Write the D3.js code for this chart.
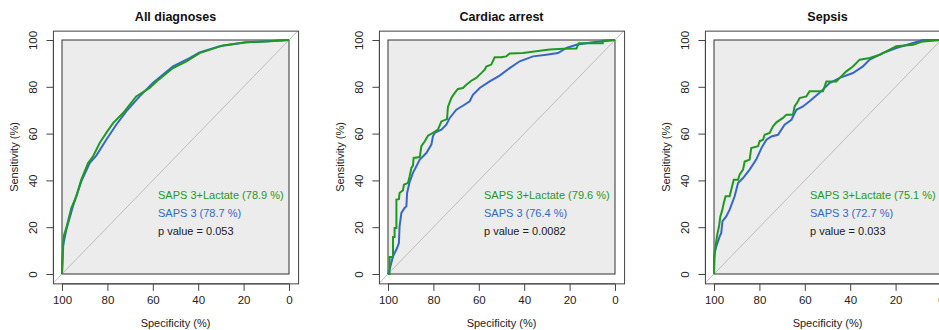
<!DOCTYPE html>
<html>
<head>
<meta charset="utf-8">
<script src="https://cdn.jsdelivr.net/npm/d3@7"></script>
<style>
  body { margin: 0; background: #fff; }
  svg { display: block; font-family: "Liberation Sans", Arial, sans-serif; }
</style>
</head>
<body>
<div id="chart"></div>
<script>
// Panel titles and legend text
const titles = ['All diagnoses', 'Cardiac arrest', 'Sepsis'];
const aucLactate = ['78.9', '79.6', '75.1'];
const aucSaps = ['78.7', '76.4', '72.7'];
const pValues = ['0.053', '0.0082', '0.033'];
const ticks = [100, 80, 60, 40, 20, 0];

// ROC points as [specificity %, sensitivity %]
const allSaps = [[100,0],[99.6,11.8],[98.1,18.9],[95.2,28.9],[91.5,39.6],[87.8,47.4],[84.9,50.6],[80.5,57.4],
  [76.1,63.8],[71.7,69.5],[65.8,75.9],[60,81.6],[51.1,88.7],[43.8,92.3],[39.4,94.7],[30.5,97.3],[18.8,99],[0,100]];
const allLact = [[100,0],[99.3,16],[98.1,19.7],[95.9,28.2],[93.7,33.2],[91.5,40.3],[88.5,47.4],[86.3,50.3],
  [83.4,56],[80.5,60.3],[77.5,64.5],[73.1,68.8],[67.3,75.9],[61.4,79.5],[58.4,82.3],[51.1,88],[45.2,90.9],
  [39.4,94.4],[29.1,97.7],[18.8,99],[10,99.4],[0,100]];

const cardSaps = [[100,0],[99.3,1.9],[97.8,7.5],[96,11.1],[95.2,13.2],[94.9,20.4],[94.1,26.1],[92.7,28.2],
  [91.9,28.9],[91.6,34.6],[90.5,39.2],[89,43.2],[86,48.9],[83.1,51.7],[80.9,55.3],[80.2,58.8],[79.4,60.3],
  [76.5,61.7],[74.3,63.8],[72.8,66.7],[69.9,70.2],[67,71.9],[64,73.8],[62.6,76.6],[59.6,79.5],[55.2,82.3],
  [50.8,84.8],[46.4,88],[42,90.9],[36.1,93],[30.2,93.7],[25.1,94.4],[21.4,96.6],[17,98],[9.7,99],[0,100]];
const cardLact = [[100,0],[99.3,0],[99.3,7.3],[97.8,7.3],[97.8,15.8],[97.1,15.8],[97.1,19.7],[96.3,19.7],
  [96.3,31.8],[95.2,32],[94.9,34.6],[93.4,35.8],[93,38.2],[91.2,38.9],[90.5,41.7],[89.7,45.3],[89,46.3],
  [88.7,49.6],[86,50],[85.3,54.6],[83.8,56.7],[82.4,59.1],[80.2,60.3],[78,61.7],[76.5,65.2],[74,66.2],
  [73.6,71.4],[72.1,75.2],[70.6,77.4],[69.2,79.1],[67,79.5],[65.5,80.9],[63.3,82.6],[61.1,83.8],[59.6,85.2],
  [57.4,87.3],[56.7,88.7],[54.5,89.5],[53,92.6],[50.1,92.6],[47.9,93],[46.4,94.2],[40.5,94.4],[34.7,95.2],
  [28.8,95.9],[22.9,96.3],[17,96.4],[16,98.6],[5.4,98.6],[5.4,99.7],[0,100]];

const sepSaps = [[100,0],[99.7,9],[99,11.8],[97.5,16.1],[96.8,17.5],[96.3,22.5],[94.6,24.6],[93.1,27.5],
  [90.9,33.2],[89.4,38.9],[87.2,41],[84.3,44.6],[81.4,48.9],[79.1,53.8],[76.9,57.4],[74.7,58.8],[71.8,59.5],
  [68.9,63.8],[65.9,65.9],[63.7,70.2],[60.8,71.6],[57.9,73.8],[53.5,77.4],[49.1,81.6],[44.6,83.8],[38.8,85.9],
  [34.4,88.7],[31.4,91.6],[25.6,94.4],[19.7,96.6],[12.3,98.7],[7.9,100],[0,100]];
const sepLact = [[100,0],[100,6.8],[99.3,11.8],[98.7,16.1],[97.8,20.4],[97.2,24.6],[96.3,27.5],[95.7,30.3],
  [94.9,33.2],[93.1,33.2],[92.4,36],[91.3,40.3],[89.4,40.3],[88.7,42.5],[87.2,44.6],[86.5,48.1],[84.3,48.9],
  [83.6,53.8],[80.6,54.6],[79.9,56.7],[78.4,57.4],[77.7,59.5],[75.5,60.3],[74,63.1],[72.5,64.8],[69.6,66.7],
  [68.1,68.1],[65.2,68.1],[64.5,71.6],[63,73.8],[62.3,75.2],[59.3,75.9],[57.9,78.1],[52,78.1],[50.5,82.3],
  [46.1,82.3],[44.6,83.8],[41.7,86.6],[38.8,88.7],[35.8,91.6],[31.4,92.3],[27,93.7],[22.6,95.9],[19.7,97.3],
  [12.3,98],[7.9,99.4],[0,100]];

const sapsSeries = [allSaps, cardSaps, sepSaps];
const lactSeries = [allLact, cardLact, sepLact];

const green = '#1f9a1f';
const blue = '#3468c8';

const width = 939, height = 330;
const innerW = 227, innerH = 234;
const panelStep = 326, left0 = 62, top0 = 40;

const svg = d3.select('#chart').append('svg')
    .attr('width', width)
    .attr('height', height);

const x = d3.scaleLinear().domain([100, 0]).range([0, innerW]);
const y = d3.scaleLinear().domain([0, 100]).range([innerH, 0]);

titles.forEach((title, i) => {
    const g = svg.append('g')
        .attr('transform', `translate(${left0 + i * panelStep},${top0})`);

    // R-style plot region extends 4% beyond data range
    const x0 = x(104), x1 = x(-4), y0 = y(104), y1 = y(-4);

    g.append('clipPath').attr('id', 'clip' + i)
        .append('rect')
        .attr('x', x0).attr('y', y0)
        .attr('width', x1 - x0).attr('height', y1 - y0);

    // grey area of the data range
    g.append('rect')
        .attr('x', x(100)).attr('y', y(100))
        .attr('width', x(0) - x(100)).attr('height', y(0) - y(100))
        .attr('fill', '#ececec')
        .attr('stroke', '#333')
        .attr('stroke-width', 1);

    // chance diagonal
    g.append('line')
        .attr('clip-path', `url(#clip${i})`)
        .attr('x1', x(104)).attr('y1', y(-4))
        .attr('x2', x(-4)).attr('y2', y(104))
        .attr('stroke', '#bdbdbd')
        .attr('stroke-width', 1);

    const line = d3.line().x(d => x(d[0])).y(d => y(d[1]));

    g.append('path')
        .datum(sapsSeries[i])
        .attr('d', line)
        .attr('fill', 'none')
        .attr('stroke', blue)
        .attr('stroke-width', 2);

    g.append('path')
        .datum(lactSeries[i])
        .attr('d', line)
        .attr('fill', 'none')
        .attr('stroke', green)
        .attr('stroke-width', 2);

    // plot region box
    g.append('rect')
        .attr('x', x0 + 0.5).attr('y', y0 + 0.5)
        .attr('width', x1 - x0).attr('height', y1 - y0)
        .attr('fill', 'none')
        .attr('stroke', '#444')
        .attr('stroke-width', 1);

    // x axis
    const xAxis = g.append('g')
        .attr('transform', `translate(0,${y1 + 0.5})`)
        .call(d3.axisBottom(x).tickValues(ticks).tickSize(7).tickPadding(5));
    xAxis.select('.domain').attr('d', `M${x(100)},0H${x(0)}`).attr('stroke', '#444');
    xAxis.selectAll('.tick line').attr('stroke', '#444');
    xAxis.selectAll('text')
        .style('font-size', '11.5px')
        .style('fill', '#222')
        .style('font-family', '"Liberation Sans", Arial, sans-serif');

    // y axis
    const yAxis = g.append('g')
        .attr('transform', `translate(${x0 + 0.5},0)`)
        .call(d3.axisLeft(y).tickValues(ticks.slice().reverse()).tickSize(7).tickFormat(d3.format('d')));
    yAxis.select('.domain').attr('d', `M0,${y(0)}V${y(100)}`).attr('stroke', '#444');
    yAxis.selectAll('.tick line').attr('stroke', '#444');
    yAxis.selectAll('text')
        .attr('x', -16)
        .attr('dy', null)
        .attr('transform', 'rotate(-90)')
        .attr('text-anchor', 'middle')
        .attr('dominant-baseline', 'central')
        .style('font-size', '11.5px')
        .style('fill', '#222')
        .style('font-family', '"Liberation Sans", Arial, sans-serif');
    // rotate each label around its own tick position
    yAxis.selectAll('.tick text')
        .attr('x', 0)
        .attr('y', 0)
        .attr('transform', 'translate(-20,0) rotate(-90)');

    // titles
    g.append('text')
        .attr('x', innerW / 2)
        .attr('y', -19)
        .attr('text-anchor', 'middle')
        .style('font-size', '12.5px')
        .style('font-weight', 'bold')
        .style('fill', '#111')
        .text(title);

    g.append('text')
        .attr('x', innerW / 2)
        .attr('y', 287)
        .attr('text-anchor', 'middle')
        .style('font-size', '11px')
        .style('fill', '#222')
        .text('Specificity (%)');

    g.append('text')
        .attr('transform', `translate(-44,${innerH / 2}) rotate(-90)`)
        .attr('text-anchor', 'middle')
        .style('font-size', '11px')
        .style('fill', '#222')
        .text('Sensitivity (%)');

    // legend text
    const lx = x(57.7);
    g.append('text').attr('x', lx).attr('y', y(32))
        .style('font-size', '11px').style('fill', green)
        .text(`SAPS 3+Lactate (${aucLactate[i]} %)`);
    g.append('text').attr('x', lx).attr('y', y(24.4))
        .style('font-size', '11px').style('fill', blue)
        .text(`SAPS 3 (${aucSaps[i]} %)`);
    g.append('text').attr('x', lx).attr('y', y(16.7))
        .style('font-size', '11px').style('fill', '#222')
        .text(`p value = ${pValues[i]}`);
});
</script>
</body>
</html>
